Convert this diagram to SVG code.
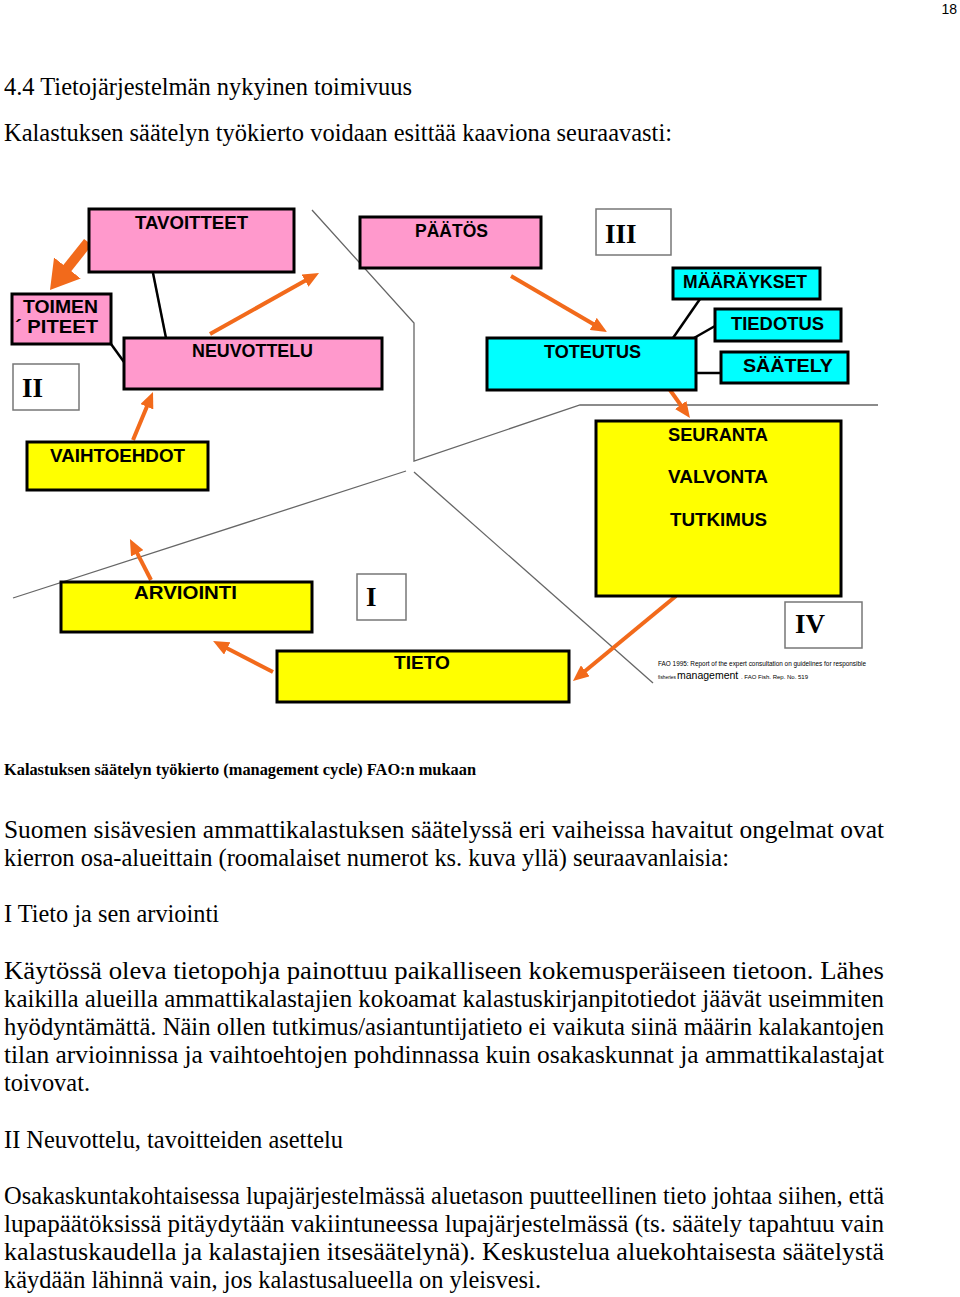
<svg xmlns="http://www.w3.org/2000/svg" width="960" height="1297" viewBox="0 0 960 1297">
<style>
.body{font-family:"Liberation Serif","Times New Roman",serif;font-size:25px;fill:#000}
.cap{font-family:"Liberation Serif","Times New Roman",serif;font-size:16px;font-weight:bold;fill:#000}
.lbl{font-family:"Liberation Sans",Arial,sans-serif;font-size:18px;font-weight:bold;fill:#000}
.num{font-family:"Liberation Serif","Times New Roman",serif;font-size:27px;font-weight:bold;fill:#000}
.fao{font-family:"Liberation Sans",Arial,sans-serif;font-size:7px;fill:#000}
.box{stroke:#000;stroke-width:3}
.pink{fill:#FF99CC}
.cyan{fill:#00FFFF}
.yel{fill:#FFFF00}
.nbox{fill:#fff;stroke:#777;stroke-width:1.5}
.gray{fill:none;stroke:#666;stroke-width:1.3}
.blk{stroke:#000;stroke-width:2.5;fill:none}
.arr{stroke:#F26A1B;stroke-width:4;fill:none;marker-end:url(#ah)}
.arrT{stroke:#F26A1B;stroke-width:10;fill:none;marker-end:url(#ahT)}
</style>
<defs>
<marker id="ah" markerUnits="userSpaceOnUse" markerWidth="16" markerHeight="14" refX="3" refY="7" orient="auto"><path d="M0,0 L16,7 L0,14 z" fill="#F26A1B"/></marker>
<marker id="ahT" markerUnits="userSpaceOnUse" markerWidth="28" markerHeight="34" refX="3" refY="17" orient="auto"><path d="M0,0 L28,17 L0,34 z" fill="#F26A1B"/></marker>
</defs>
<rect width="960" height="1297" fill="#fff"/>
<text x="957" y="14" text-anchor="end" style="font-family:'Liberation Sans',Arial,sans-serif;font-size:14px">18</text>
<text class="body" x="4" y="95" textLength="408" lengthAdjust="spacingAndGlyphs">4.4 Tietojärjestelmän nykyinen toimivuus</text>
<text class="body" x="4" y="141" textLength="668" lengthAdjust="spacingAndGlyphs">Kalastuksen säätelyn työkierto voidaan esittää kaaviona seuraavasti:</text>

<g id="separators">
<polyline class="gray" points="312,210 414,323 414,461 580,405 878,405"/>
<line class="gray" x1="13" y1="598" x2="406" y2="471"/>
<line class="gray" x1="414" y1="472" x2="653" y2="683"/>
</g>

<g id="connectors">
<line class="blk" x1="153" y1="273" x2="166" y2="338"/>
<line class="blk" x1="111" y1="344" x2="124" y2="362"/>
<line class="blk" x1="700" y1="299" x2="673" y2="338"/>
<line class="blk" x1="715" y1="326" x2="694" y2="338"/>
<line class="blk" x1="696" y1="373" x2="721" y2="373"/>
<line class="arrT" x1="88" y1="242" x2="65.5" y2="270.4"/>
<line class="arr" x1="210" y1="334" x2="307.7" y2="279.3"/>
<line class="arr" x1="511" y1="276" x2="595.8" y2="325.4"/>
<line class="arr" x1="670" y1="390" x2="682.4" y2="407.4"/>
<line class="arr" x1="676" y1="596" x2="583" y2="672.7"/>
<line class="arr" x1="273" y1="672" x2="224.6" y2="647"/>
<line class="arr" x1="151" y1="580" x2="135.9" y2="550.6"/>
<line class="arr" x1="133" y1="440" x2="148" y2="404"/>
</g>

<g id="tavoitteet"><rect class="box pink" x="89" y="209" width="205" height="63"/><text class="lbl" x="135" y="229" textLength="113" lengthAdjust="spacingAndGlyphs">TAVOITTEET</text></g>
<g id="paatos"><rect class="box pink" x="360" y="217" width="181" height="51"/><text class="lbl" x="415" y="237" textLength="73" lengthAdjust="spacingAndGlyphs">PÄÄTÖS</text></g>
<g id="toimenpiteet"><rect class="box pink" x="12" y="294" width="99" height="50"/><text class="lbl" x="23" y="313" textLength="75" lengthAdjust="spacingAndGlyphs">TOIMEN</text><text class="lbl" x="15" y="333" textLength="83" lengthAdjust="spacingAndGlyphs">´ PITEET</text></g>
<g id="neuvottelu"><rect class="box pink" x="124" y="338" width="258" height="51"/><text class="lbl" x="192" y="357" textLength="121" lengthAdjust="spacingAndGlyphs">NEUVOTTELU</text></g>
<g id="toteutus"><rect class="box cyan" x="487" y="338" width="209" height="52"/><text class="lbl" x="544" y="358" textLength="97" lengthAdjust="spacingAndGlyphs">TOTEUTUS</text></g>
<g id="maaraykset"><rect class="box cyan" x="673" y="268" width="147" height="31"/><text class="lbl" x="683" y="288" textLength="124" lengthAdjust="spacingAndGlyphs">MÄÄRÄYKSET</text></g>
<g id="tiedotus"><rect class="box cyan" x="715" y="309" width="126" height="32"/><text class="lbl" x="731" y="330" textLength="93" lengthAdjust="spacingAndGlyphs">TIEDOTUS</text></g>
<g id="saately"><rect class="box cyan" x="721" y="352" width="127" height="31"/><text class="lbl" x="743" y="372" textLength="90" lengthAdjust="spacingAndGlyphs">SÄÄTELY</text></g>
<g id="vaihtoehdot"><rect class="box yel" x="27" y="442" width="181" height="48"/><text class="lbl" x="50" y="462" textLength="135" lengthAdjust="spacingAndGlyphs">VAIHTOEHDOT</text></g>
<g id="seuranta"><rect class="box yel" x="596" y="421" width="245" height="175"/><text class="lbl" x="668" y="441" textLength="100" lengthAdjust="spacingAndGlyphs">SEURANTA</text><text class="lbl" x="668" y="483" textLength="100" lengthAdjust="spacingAndGlyphs">VALVONTA</text><text class="lbl" x="670" y="526" textLength="97" lengthAdjust="spacingAndGlyphs">TUTKIMUS</text></g>
<g id="arviointi"><rect class="box yel" x="61" y="582" width="251" height="50"/><text class="lbl" x="134" y="599" textLength="103" lengthAdjust="spacingAndGlyphs">ARVIOINTI</text></g>
<g id="tieto"><rect class="box yel" x="277" y="651" width="292" height="51"/><text class="lbl" x="394" y="669" textLength="56" lengthAdjust="spacingAndGlyphs">TIETO</text></g>

<g id="num-II"><rect class="nbox" x="13" y="364" width="66" height="46"/><text class="num" x="22" y="397">II</text></g>
<g id="num-III"><rect class="nbox" x="596" y="209" width="75" height="46"/><text class="num" x="605" y="243">III</text></g>
<g id="num-I"><rect class="nbox" x="357" y="574" width="49" height="46"/><text class="num" x="366" y="606">I</text></g>
<g id="num-IV"><rect class="nbox" x="785" y="602" width="77" height="46"/><text class="num" x="795" y="633">IV</text></g>

<g id="fao">
<text class="fao" x="658" y="666" textLength="208" lengthAdjust="spacingAndGlyphs">FAO 1995: Report of the expert consultation on guidelines for responsible</text>
<text class="fao" y="679"><tspan x="658" style="font-size:4.8px">fisheries</tspan><tspan x="677" style="font-size:10.5px">management</tspan><tspan x="741" style="font-size:6px">. FAO Fish. Rep. No. 519</tspan></text>
</g>

<text class="cap" x="4" y="775" textLength="472" lengthAdjust="spacingAndGlyphs">Kalastuksen säätelyn työkierto (management cycle) FAO:n mukaan</text>

<text class="body" x="4" y="838" textLength="880" lengthAdjust="spacingAndGlyphs">Suomen sisävesien ammattikalastuksen säätelyssä eri vaiheissa havaitut ongelmat ovat</text>
<text class="body" x="4" y="866" textLength="725" lengthAdjust="spacingAndGlyphs">kierron osa-alueittain (roomalaiset numerot ks. kuva yllä) seuraavanlaisia:</text>
<text class="body" x="4" y="922" textLength="215" lengthAdjust="spacingAndGlyphs">I Tieto ja sen arviointi</text>
<text class="body" x="4" y="979" textLength="880" lengthAdjust="spacingAndGlyphs">Käytössä oleva tietopohja painottuu paikalliseen kokemusperäiseen tietoon. Lähes</text>
<text class="body" x="4" y="1007" textLength="880" lengthAdjust="spacingAndGlyphs">kaikilla alueilla ammattikalastajien kokoamat kalastuskirjanpitotiedot jäävät useimmiten</text>
<text class="body" x="4" y="1035" textLength="880" lengthAdjust="spacingAndGlyphs">hyödyntämättä. Näin ollen tutkimus/asiantuntijatieto ei vaikuta siinä määrin kalakantojen</text>
<text class="body" x="4" y="1063" textLength="880" lengthAdjust="spacingAndGlyphs">tilan arvioinnissa ja vaihtoehtojen pohdinnassa kuin osakaskunnat ja ammattikalastajat</text>
<text class="body" x="4" y="1091" textLength="86" lengthAdjust="spacingAndGlyphs">toivovat.</text>
<text class="body" x="4" y="1148" textLength="339" lengthAdjust="spacingAndGlyphs">II Neuvottelu, tavoitteiden asettelu</text>
<text class="body" x="4" y="1204" textLength="880" lengthAdjust="spacingAndGlyphs">Osakaskuntakohtaisessa lupajärjestelmässä aluetason puutteellinen tieto johtaa siihen, että</text>
<text class="body" x="4" y="1232" textLength="880" lengthAdjust="spacingAndGlyphs">lupapäätöksissä pitäydytään vakiintuneessa lupajärjestelmässä (ts. säätely tapahtuu vain</text>
<text class="body" x="4" y="1260" textLength="880" lengthAdjust="spacingAndGlyphs">kalastuskaudella ja kalastajien itsesäätelynä). Keskustelua aluekohtaisesta säätelystä</text>
<text class="body" x="4" y="1288" textLength="537" lengthAdjust="spacingAndGlyphs">käydään lähinnä vain, jos kalastusalueella on yleisvesi.</text>
</svg>
